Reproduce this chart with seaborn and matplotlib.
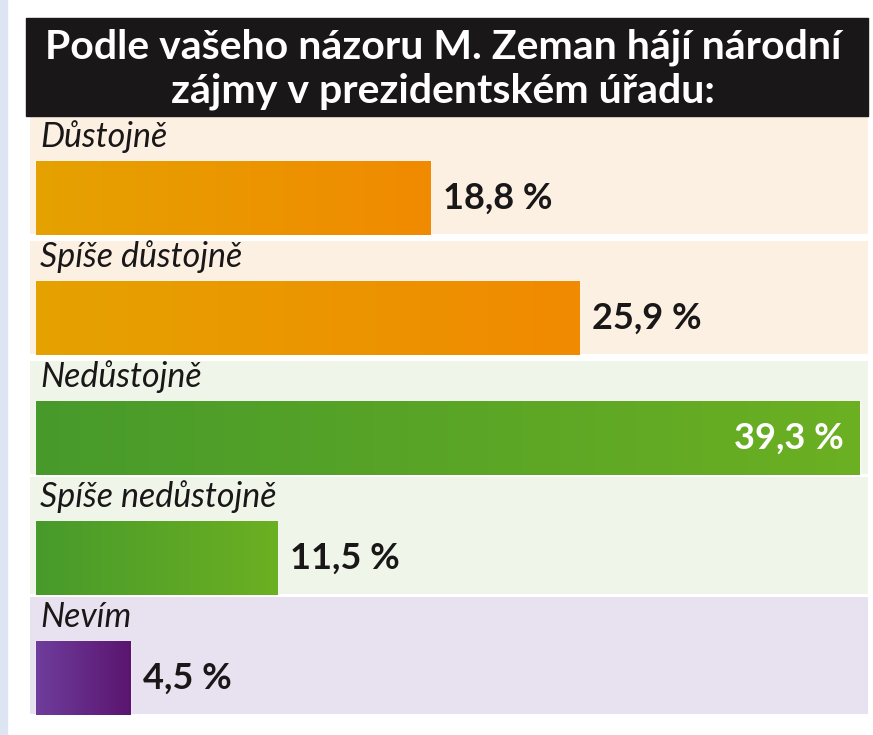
import numpy as np
import pandas as pd
import seaborn as sns
import matplotlib.pyplot as plt
from matplotlib.colors import LinearSegmentedColormap
from matplotlib.patches import Rectangle

title_lines = ['Podle vašeho názoru M. Zeman hájí národní',
               'zájmy v prezidentském úřadu:']
categories = ['Důstojně', 'Spíše důstojně', 'Nedůstojně', 'Spíše nedůstojně', 'Nevím']
values = [18.8, 25.9, 39.3, 11.5, 4.5]
value_labels = ['18,8 %', '25,9 %', '39,3 %', '11,5 %', '4,5 %']
groups = ['orange', 'orange', 'green', 'green', 'purple']

grad = {
    'orange': ('#e5a200', '#f18a00'),
    'green': ('#479a2b', '#6cb022'),
    'purple': ('#6f3d9c', '#5a156f'),
}
band_col = {'orange': '#fcf0e2', 'green': '#eff5e8', 'purple': '#e8e1ef'}

sns.set_theme(style='white')
plt.rcParams['font.family'] = ['Lato', 'DejaVu Sans']

W, H = 873, 735
fig = plt.figure(figsize=(W / 100, H / 100), dpi=100)
fig.patch.set_facecolor('white')

# light strip on the left edge and black title box
fig.patches.append(Rectangle((0, 0), 7 / W, 1, transform=fig.transFigure,
                             color='#dce5f1', zorder=0))
fig.patches.append(Rectangle((26 / W, 1 - 116 / H), (868 - 26) / W, 98 / H,
                             transform=fig.transFigure, color='#1a1718', zorder=0))
for k, line in enumerate(title_lines):
    fig.text(443 / W, 1 - (47 + 44 * k) / H, line, color='white', fontsize=29.5,
             fontweight='bold', ha='center', va='center')

# plot area (pixels 30..868 horizontally, 117..716 vertically)
ax = fig.add_axes([30 / W, 1 - 716 / H, (868 - 30) / W, (716 - 117) / H])
df = pd.DataFrame({'kategorie': categories, 'hodnota': values})
sns.barplot(data=df, x='hodnota', y='kategorie', hue='kategorie',
            palette=[grad[g][1] for g in groups], width=0.61, legend=False,
            saturation=1, orient='h', ax=ax, zorder=3)
bars = list(ax.patches)

xmin, xmax = -0.29, 39.68
ymin, ymax = 4.317, -0.675

for i, g in enumerate(groups):
    ax.axhspan(i - 0.675 + (0.03 if i in (1, 2) else 0.0), i + 0.303,
               xmin=0, xmax=1, color=band_col[g], zorder=0, lw=0)

gradient = np.linspace(0, 1, 256).reshape(1, -1)
for patch, g in zip(bars, groups):
    x0, y0 = patch.get_x(), patch.get_y()
    w, h = patch.get_width(), patch.get_height()
    cmap = LinearSegmentedColormap.from_list(g, grad[g])
    im = ax.imshow(gradient, cmap=cmap, aspect='auto', extent=[x0, x0 + w, y0 + h, y0],
                   zorder=4)
    im.set_clip_path(patch)

for i, (cat, v, lab) in enumerate(zip(categories, values, value_labels)):
    ax.text(0.2, i - 0.425, cat, fontsize=24.5, style='italic', color='#1a1718',
            va='baseline', ha='left', zorder=5)
    if v == max(values):
        ax.text(v - 0.8, i, lab, fontsize=26, fontweight='bold', color='white',
                va='center', ha='right', zorder=5)
    else:
        ax.text(v + 0.6, i, lab, fontsize=26, fontweight='bold', color='#1a1718',
                va='center', ha='left', zorder=5)

ax.set_xlim(xmin, xmax)
ax.set_ylim(ymin, ymax)
ax.set_xlabel('')
ax.set_ylabel('')
ax.set_xticks([])
ax.set_yticks([])
ax.patch.set_alpha(0)
sns.despine(ax=ax, left=True, bottom=True)

fig.savefig('out.png', dpi=100)
